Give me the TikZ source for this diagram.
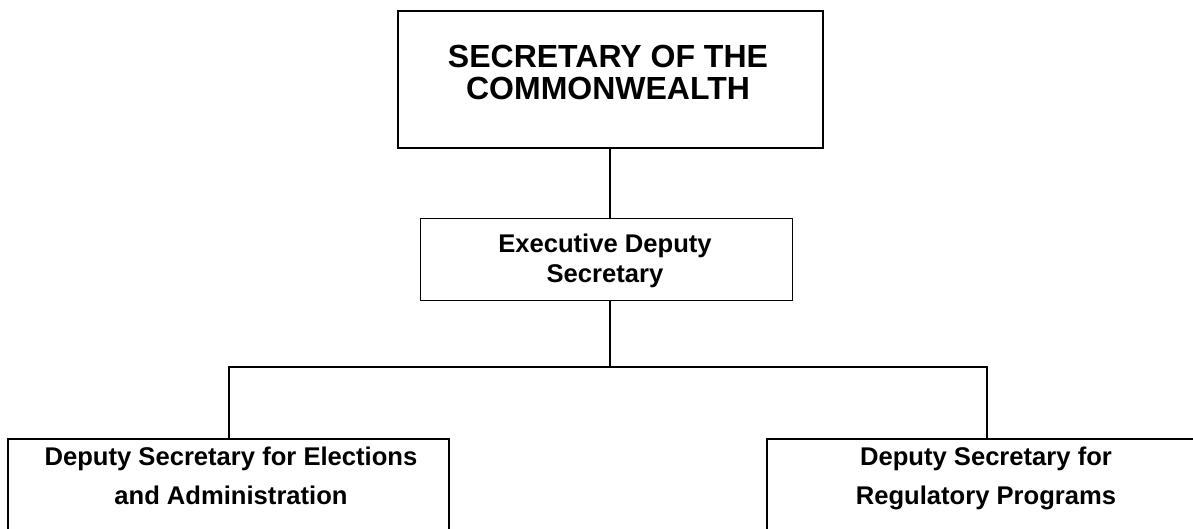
\documentclass[tikz,border=0pt]{standalone}
\usepackage{fontspec}
\setmainfont{Liberation Sans}
\begin{document}
\begin{tikzpicture}[x=1pt,y=-1pt,
  box/.style={draw=black,fill=white,rectangle,inner sep=0pt,anchor=north west},
  conn/.style={draw=black,line width=1.4pt},
  bigtxt/.style={anchor=base,inner sep=0pt,font=\bfseries\fontsize{32}{32}\selectfont},
  midtxt/.style={anchor=base,inner sep=0pt,font=\bfseries\fontsize{25.6}{29}\selectfont}]
\useasboundingbox (0,0) rectangle (1193,529);
\clip (0,0) rectangle (1193,529);
% boxes
\node[box,line width=2pt,minimum width=425pt,minimum height=137pt] (sec) at (397,10) {};
\node[box,line width=1.1pt,minimum width=372pt,minimum height=82pt] (exec) at (420,218) {};
\node[box,line width=1.6pt,minimum width=441pt,minimum height=140pt] (elec) at (7,438) {};
\node[box,line width=1.6pt,minimum width=442pt,minimum height=140pt] (reg) at (766,438) {};
% texts
\node[bigtxt] (secA) at (608,68) {SECRETARY OF THE};
\node[bigtxt] (secB) at (608,100) {COMMONWEALTH};
\node[midtxt] (execA) at (605,253) {Executive Deputy};
\node[midtxt] (execB) at (605,282) {Secretary};
\node[midtxt] (elecA) at (231,465) {Deputy Secretary for Elections};
\node[midtxt] (elecB) at (231,504) {and Administration};
\node[midtxt] (regA) at (986,465) {Deputy Secretary for};
\node[midtxt] (regB) at (986,504) {Regulatory Programs};
% connectors
\coordinate (barM) at (610,367);
\coordinate (barL) at (229,367);
\coordinate (barR) at (987,367);
\draw[conn] (sec.south -| barM) -- (exec.north -| barM);
\draw[conn] (exec.south -| barM) -- (barM);
\draw[conn] (barL |- elec.north) -- (barL) -- (barR) -- (barR |- reg.north);
\end{tikzpicture}
\end{document}
